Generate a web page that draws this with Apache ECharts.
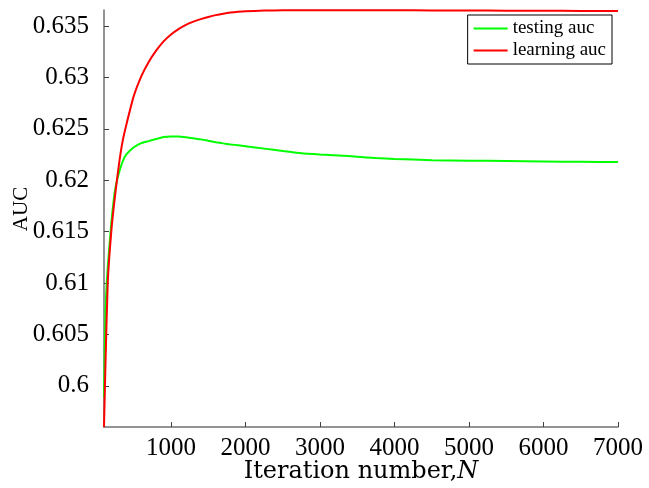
<!DOCTYPE html>
<html>
<head>
<meta charset="utf-8">
<script src="https://cdn.jsdelivr.net/npm/echarts@6/dist/echarts.min.js"></script>
<style>html,body{margin:0;padding:0;background:#fff}#c{width:649px;height:488px}</style>
</head>
<body>
<div id="c"></div>
<script>
var iterations = [100, 120, 150, 200, 250, 300, 350, 400, 500, 600, 700, 800, 900, 1000, 1100, 1200, 1300, 1400, 1500, 1600, 1700, 1800, 1900, 2000, 2250, 2500, 2750, 3000, 3250, 3500, 3750, 4000, 4500, 5000, 5500, 6000, 6500, 7000];
var testingAuc = [0.5989, 0.6072, 0.6115, 0.6160, 0.6191, 0.6207, 0.6218, 0.6225, 0.6232, 0.6236, 0.6238, 0.6240, 0.6242, 0.62425, 0.62425, 0.62418, 0.62407, 0.62397, 0.62383, 0.62370, 0.62358, 0.62348, 0.62339, 0.62330, 0.62307, 0.62284, 0.62262, 0.62250, 0.62240, 0.62228, 0.62215, 0.62207, 0.62194, 0.62190, 0.62186, 0.62182, 0.62179, 0.62176];
var learningAuc = [0.5960, 0.6022, 0.6100, 0.6152, 0.6186, 0.6215, 0.6238, 0.6254, 0.6282, 0.6301, 0.6315, 0.6326, 0.6335, 0.63417, 0.63469, 0.63510, 0.63542, 0.63566, 0.63587, 0.63605, 0.63619, 0.63630, 0.63637, 0.63642, 0.63649, 0.63652, 0.63653, 0.63653, 0.63653, 0.63653, 0.63652, 0.63652, 0.63651, 0.63650, 0.63648, 0.63647, 0.63646, 0.63645];
var xTicks = [1000, 2000, 3000, 4000, 5000, 6000, 7000];
var yTicks = [0.6, 0.605, 0.61, 0.615, 0.62, 0.625, 0.63, 0.635];
var seriesNames = ['testing auc', 'learning auc'];

function pairs(xs, ys) { return xs.map(function (x, i) { return [x, ys[i]]; }); }

var chart = echarts.init(document.getElementById('c'), null, {renderer: 'canvas'});
var serif = 'Liberation Serif';
chart.setOption({
  animation: false,
  backgroundColor: '#fff',
  grid: {left: 104, right: 31, top: 10, bottom: 61, containLabel: false, outerBoundsMode: 'none'},
  legend: {
    orient: 'vertical',
    right: 37, top: 15,
    padding: [4, 6, 4, 6],
    icon: 'rect',
    itemWidth: 34, itemHeight: 2, itemGap: 3,
    borderColor: '#000', borderWidth: 1,
    backgroundColor: '#fff',
    textStyle: {fontFamily: serif, fontSize: 19, color: '#000'},
    data: seriesNames
  },
  xAxis: {
    type: 'value', min: 100, max: 7000,
    name: 'Iteration number,{i|N}',
    nameLocation: 'middle', nameGap: 33, nameMoveOverlap: false,
    nameTextStyle: {fontFamily: 'DejaVu Serif', fontSize: 24, color: '#000',
      rich: {i: {fontFamily: 'DejaVu Serif', fontStyle: 'italic', fontSize: 24, color: '#000'}}},
    axisLine: {show: true, lineStyle: {color: '#707070', width: 1.5}},
    axisTick: {show: true, inside: true, length: 5, customValues: xTicks, lineStyle: {color: '#404040'}},
    axisLabel: {customValues: xTicks, fontFamily: serif, fontSize: 25, color: '#000', margin: 9,
      formatter: function (v) { return String(Math.round(v)); }},
    splitLine: {show: false}
  },
  yAxis: {
    type: 'value', min: 0.596, max: 0.63655,
    name: 'AUC', nameLocation: 'middle', nameRotate: 90, nameGap: 72, nameMoveOverlap: false,
    nameTextStyle: {fontFamily: serif, fontSize: 21, color: '#000', padding: [0, 0, 0, 19]},
    axisLine: {show: true, lineStyle: {color: '#707070', width: 1.5}},
    axisTick: {show: true, inside: true, length: 5, customValues: yTicks, lineStyle: {color: '#404040'}},
    axisLabel: {customValues: yTicks, fontFamily: serif, fontSize: 25, color: '#000', margin: 15,
      formatter: function (v) { return String(+(+v).toFixed(3)); }},
    splitLine: {show: false}
  },
  series: [
    {name: seriesNames[0], type: 'line', data: pairs(iterations, testingAuc), symbol: 'none', smooth: 0.15,
      lineStyle: {color: '#00ff00', width: 2}, itemStyle: {color: '#00ff00'}, z: 2},
    {name: seriesNames[1], type: 'line', data: pairs(iterations, learningAuc), symbol: 'none', smooth: 0.15,
      lineStyle: {color: '#ff0000', width: 2}, itemStyle: {color: '#ff0000'}, z: 3}
  ]
});
</script>
</body>
</html>
